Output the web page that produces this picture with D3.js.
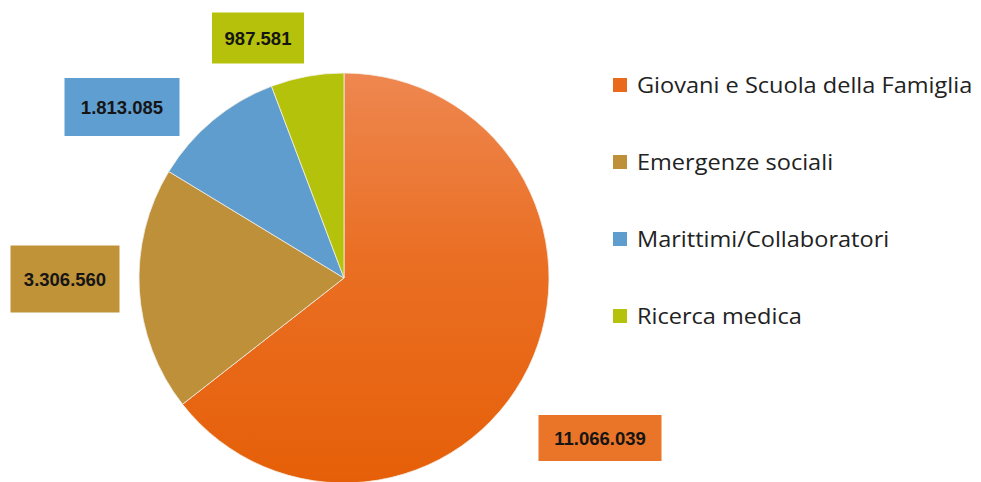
<!DOCTYPE html>
<html>
<head>
<meta charset="utf-8">
<script src="https://cdn.jsdelivr.net/npm/d3@7"></script>
<style>
  html, body { margin: 0; padding: 0; background: #fff; }
  svg { display: block; }
</style>
</head>
<body>
<svg id="chart" width="981" height="482"></svg>
<script>
// ---- data ----
const categories = ["Giovani e Scuola della Famiglia", "Emergenze sociali", "Marittimi/Collaboratori", "Ricerca medica"];
const values = [11066039, 3306560, 1813085, 987581];
const valueLabels = ["11.066.039", "3.306.560", "1.813.085", "987.581"];
const colors = ["#E96A1C", "#BF903A", "#5E9DCD", "#B5C20B"];

// ---- layout ----
const W = 981, H = 482;
const cx = 344, cy = 278, R = 205;
// label boxes: centre x, centre y, width, height
const labelBoxes = [
  { x: 600, y: 438, w: 123, h: 46, fill: "#EA7427" },
  { x: 65,  y: 279, w: 109, h: 67, fill: "#C09339" },
  { x: 122, y: 107, w: 115, h: 58, fill: "#5F9ED0" },
  { x: 258, y: 38,  w: 92,  h: 51, fill: "#B5C10A" }
];

const svg = d3.select("#chart");
const defs = svg.append("defs");
const grad = defs.append("linearGradient")
  .attr("id", "orangeGrad").attr("x1", "0").attr("y1", "0").attr("x2", "0").attr("y2", "1");
grad.append("stop").attr("offset", "0%").attr("stop-color", "#EE8750");
grad.append("stop").attr("offset", "45%").attr("stop-color", "#EA6F24");
grad.append("stop").attr("offset", "100%").attr("stop-color", "#E65F08");

const data = categories.map((c, i) => ({ cat: c, value: values[i], label: valueLabels[i], color: colors[i], i }));

const pie = d3.pie().sort(null).value(d => d.value);
const arc = d3.arc().innerRadius(0).outerRadius(R);

const g = svg.append("g").attr("transform", `translate(${cx},${cy})`);
g.selectAll("path").data(pie(data)).join("path")
  .attr("d", arc)
  .attr("fill", d => d.data.i === 0 ? "url(#orangeGrad)" : d.data.color)
  .attr("stroke", "#f3efe6")
  .attr("stroke-width", 0.8);

// value labels
const lbl = svg.append("g").selectAll("g").data(data).join("g")
  .attr("transform", d => `translate(${labelBoxes[d.i].x},${labelBoxes[d.i].y})`);
lbl.append("rect")
  .attr("x", d => -labelBoxes[d.i].w / 2)
  .attr("y", d => -labelBoxes[d.i].h / 2)
  .attr("width", d => labelBoxes[d.i].w)
  .attr("height", d => labelBoxes[d.i].h)
  .attr("fill", d => labelBoxes[d.i].fill);
lbl.append("text")
  .attr("text-anchor", "middle")
  .attr("dy", "0.36em")
  .attr("font-family", "Liberation Sans, Arial, sans-serif")
  .attr("font-weight", "bold")
  .attr("font-size", 18.5)
  .attr("fill", "#151515")
  .text(d => d.label);

// legend
const legendY = d3.scalePoint().domain(categories).range([85, 316]);
const leg = svg.append("g").selectAll("g").data(data).join("g")
  .attr("transform", d => `translate(613,${legendY(d.cat)})`);
leg.append("rect")
  .attr("x", 0).attr("y", -7).attr("width", 14).attr("height", 14)
  .attr("fill", d => d.color);
leg.append("text")
  .attr("x", 24)
  .attr("dy", "0.35em")
  .attr("font-family", "Open Sans, sans-serif")
  .attr("font-size", 22)
  .attr("fill", "#222")
  .text(d => d.cat)
  .each(function () {
    const len = this.getComputedTextLength();
    d3.select(this).attr("textLength", len * 1.07).attr("lengthAdjust", "spacingAndGlyphs");
  });
</script>
</body>
</html>
